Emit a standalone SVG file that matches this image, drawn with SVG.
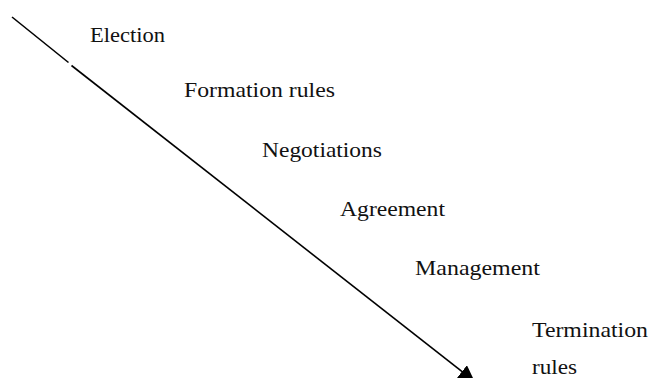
<svg xmlns="http://www.w3.org/2000/svg" width="650" height="378" viewBox="0 0 650 378">
<style>
.lbl{font-family:"Liberation Serif","Times New Roman",serif;font-size:22px;fill:#111}
.ln{stroke:#000;stroke-width:1.6;fill:none}
</style>
<defs>
<marker id="ah" viewBox="0 0 10 10" refX="10" refY="5" markerWidth="10" markerHeight="10" markerUnits="strokeWidth" orient="auto">
<path d="M0,0 L10,5 L0,10 z" fill="#000"/>
</marker>
</defs>
<rect width="650" height="378" fill="#fff"/>
<g id="connectors">
<line class="ln" x1="12" y1="17" x2="68.5" y2="62.5"/>
<line class="ln" x1="71.5" y1="65.5" x2="474.6" y2="381.4" marker-end="url(#ah)"/>
</g>
<g id="election"><text class="lbl" x="90" y="42" textLength="75" lengthAdjust="spacingAndGlyphs">Election</text></g>
<g id="formation"><text class="lbl" x="184" y="96.5" textLength="151" lengthAdjust="spacingAndGlyphs">Formation rules</text></g>
<g id="negotiations"><text class="lbl" x="262" y="157" textLength="120" lengthAdjust="spacingAndGlyphs">Negotiations</text></g>
<g id="agreement"><text class="lbl" x="340" y="215.5" textLength="105" lengthAdjust="spacingAndGlyphs">Agreement</text></g>
<g id="management"><text class="lbl" x="415" y="274.5" textLength="125" lengthAdjust="spacingAndGlyphs">Management</text></g>
<g id="termination"><text class="lbl" x="532" y="336.5" textLength="116" lengthAdjust="spacingAndGlyphs">Termination</text>
<text class="lbl" x="532" y="373.5" textLength="45" lengthAdjust="spacingAndGlyphs">rules</text></g>
</svg>
